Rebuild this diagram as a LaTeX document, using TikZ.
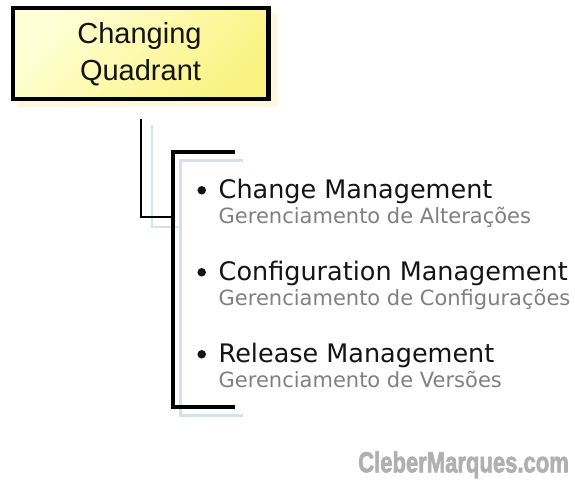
\documentclass[tikz,border=0pt]{standalone}
\usepackage{fontspec}
\usepackage{graphicx}
\setmainfont{DejaVu Sans}
\newfontfamily\boxfont{Liberation Sans}
\newfontfamily\wmfont{Liberation Sans Bold}[FakeBold=2.5]
\definecolor{boxtop}{HTML}{FFFFD6}
\definecolor{boxbot}{HTML}{FAF282}
\definecolor{shadowyel}{HTML}{FBF8DC}
\definecolor{shadowblue}{HTML}{D6E0EE}
\definecolor{maintext}{HTML}{141414}
\definecolor{subtext}{HTML}{808080}
\definecolor{wmgray}{HTML}{B0B0B0}
\tikzset{
  titlebox/.style={draw=black, line width=4.5pt, minimum width=255.5pt, minimum height=91pt,
    top color=boxtop, bottom color=boxbot, shading angle=45, inner sep=0pt},
  titletext/.style={anchor=base, inner sep=0pt, font=\boxfont\fontsize{29}{33}\selectfont, text=maintext},
  bracketline/.style={draw=black, line width=4pt},
  bracketshadow/.style={draw=shadowblue, line width=3pt},
  thinline/.style={draw=black, line width=1.1pt},
  thinshadow/.style={draw=shadowblue, line width=2pt},
  bulletdot/.style={circle, fill=maintext, inner sep=0pt, minimum size=8.5pt},
  itemmain/.style={anchor=base west, inner sep=0pt, text=maintext, font=\fontsize{25.5}{28}\selectfont},
  itemsub/.style={anchor=base west, inner sep=0pt, text=subtext, font=\fontsize{21}{23}\selectfont},
}
\begin{document}
\begin{tikzpicture}[x=1pt,y=-1pt]
\useasboundingbox (0,0) rectangle (575,479);
\fill[white] (0,0) rectangle (575,479);
% box shadow
\fill[shadowyel] (18,13) rectangle (277,107);
\node[titlebox] (box) at (140.75,53.5) {};
\node[titletext] (t1) at (139.5,43.3) {Changing};
\node[titletext] (t2) at (140.5,80) {Quadrant};
% connector
\coordinate (c0) at (141,119);
\coordinate (c1) at (141,217);
\coordinate (c2) at (172.5,217);
\coordinate (s0) at (152,125);
\coordinate (s1) at (152,227);
\coordinate (s2) at (182,227);
\draw[thinshadow] (s0) -- (s1) -- (s2);
% bracket shadow
\coordinate (bs1) at (243,160);
\coordinate (bs2) at (180.5,160);
\coordinate (bs3) at (180.5,415);
\coordinate (bs4) at (243,415);
\draw[bracketshadow] (bs1) -- (bs2) -- (bs3) -- (bs4);
\draw[thinline] (c0) -- (c1) -- (c2);
% bracket
\coordinate (b1) at (235,152);
\coordinate (b2) at (172.5,152);
\coordinate (b3) at (172.5,407);
\coordinate (b4) at (235,407);
\draw[bracketline] (b1) -- (b2) -- (b3) -- (b4);
% items
\node[bulletdot] (d1) at (201.7,190.3) {};
\node[itemmain] (m1) at (218.5,198) {Change Management};
\node[itemsub] (g1) at (218.5,223.5) {Gerenciamento de Alterações};
\node[bulletdot] (d2) at (201.7,272.3) {};
\node[itemmain] (m2) at (218.5,280) {Configuration Management};
\node[itemsub] (g2) at (218.5,305.5) {Gerenciamento de Configurações};
\node[bulletdot] (d3) at (201.7,354.3) {};
\node[itemmain] (m3) at (218.5,362) {Release Management};
\node[itemsub] (g3) at (218.5,387.5) {Gerenciamento de Versões};
% watermark
\node[anchor=base west, inner sep=0pt, text=wmgray] (wm) at (358,472.3) {\scalebox{0.76}[1]{\wmfont\fontsize{29}{32}\selectfont CleberMarques.com}};
\end{tikzpicture}
\end{document}
